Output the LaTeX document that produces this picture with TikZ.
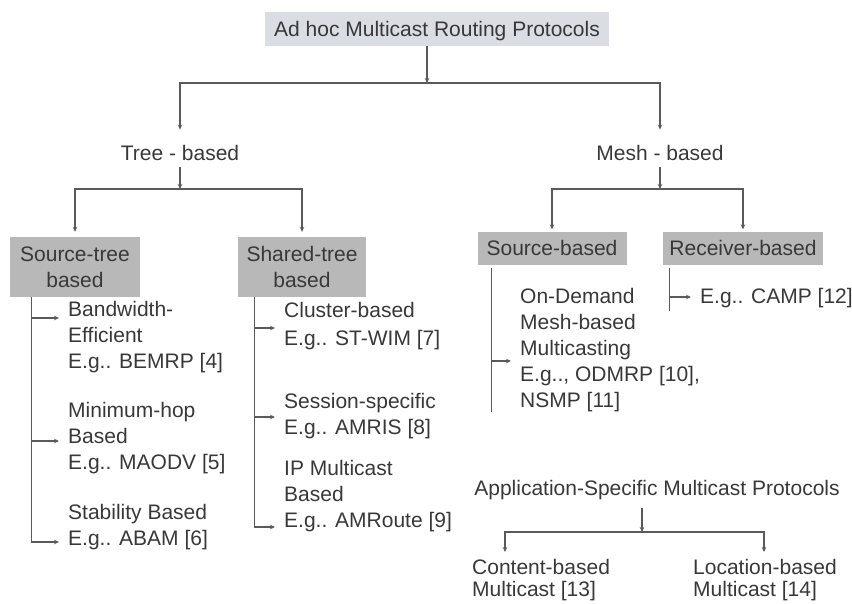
\documentclass[tikz,border=0pt]{standalone}
\usepackage{fontspec}
\setmainfont{Liberation Sans}
\usepackage{tikz}
\usetikzlibrary{arrows.meta,positioning,calc}
\definecolor{txtgray}{HTML}{383838}
\definecolor{linegray}{HTML}{5A5A5A}
\definecolor{rootfill}{HTML}{DADDE4}
\definecolor{boxfill}{HTML}{B8B8B8}

\begin{document}
\begin{tikzpicture}[
  x=1pt, y=-1pt,
  >={Stealth[length=5pt,width=4.5pt]},
  font=\fontsize{21}{26}\selectfont,
  every node/.style={text=txtgray},
  link/.style={draw=linegray, line width=1.1pt},
  arr/.style={link, ->},
  box/.style={fill=boxfill, align=center, inner sep=0pt},
  headbox/.style={box, text height=15pt, text depth=0pt},
  plain/.style={inner sep=0pt, anchor=base},
  entry/.style={align=left, anchor=north west, inner ysep=0pt, inner xsep=9pt}
]
  \useasboundingbox (0,0) rectangle (852,603);

  \node[headbox, fill=rootfill, minimum width=344pt, minimum height=34pt] (root) at (437,29)
    {Ad hoc Multicast Routing Protocols};
  \node[plain] (tree) at (180,160) {Tree - based};
  \node[plain] (mesh) at (660,160) {Mesh - based};

  \node[box, minimum width=130pt, minimum height=60pt] (srctree) at (75,267) {Source-tree\\based};
  \node[box, minimum width=128pt, minimum height=60pt] (shtree) at (302,267) {Shared-tree\\based};
  \node[headbox, minimum width=149pt, minimum height=33pt] (srcmesh) at (552,248) {Source-based};
  \node[headbox, minimum width=160pt, minimum height=33pt] (rcvmesh) at (743,248) {Receiver-based};

  \node[entry] (bwe) at (59,301) {Bandwidth-\\Efficient\\E.g.. BEMRP [4]};
  \node[entry] (minhop) at (59,402) {Minimum-hop\\Based\\E.g.. MAODV [5]};
  \node[entry] (stab) at (59,504) {Stability Based\\E.g.. ABAM [6]};
  \node[entry] (cluster) at (275,302) {Cluster-based\\[2pt]E.g.. ST-WIM [7]};
  \node[entry] (session) at (275,393) {Session-specific\\E.g.. AMRIS [8]};
  \node[entry] (ipmc) at (275,460) {IP Multicast\\Based\\E.g.. AMRoute [9]};
  \node[entry] (odmrp) at (511,288) {On-Demand\\Mesh-based\\Multicasting\\E.g.., ODMRP [10],\\NSMP [11]};
  \node[entry] (camp) at (691,288) {E.g.. CAMP [12]};

  \node[plain] (appspec) at (657,495) {Application-Specific Multicast Protocols};
  \node[entry, inner xsep=0pt, font=\fontsize{21}{22}\selectfont] (content) at (472,559)
    {Content-based\\Multicast [13]};
  \node[entry, inner xsep=0pt, font=\fontsize{21}{22}\selectfont] (location) at (693,559)
    {Location-based\\Multicast [14]};

  \coordinate (jroot) at (427,83);
  \draw[arr] (jroot |- root.south) -- (jroot);
  \draw[arr] (jroot) -| ([yshift=15pt]tree.north);
  \draw[arr] (jroot) -| ([yshift=15pt]mesh.north);

  \coordinate (jtree) at (180,189);
  \draw[arr] ([yshift=-7pt]tree.south) -- (jtree);
  \draw[arr] (jtree) -| ([yshift=5pt]srctree.north);
  \draw[arr] (jtree) -| ([yshift=5pt]shtree.north);

  \coordinate (jmesh) at (660,189);
  \draw[arr] ([yshift=-7pt]mesh.south) -- (jmesh);
  \draw[arr] (jmesh) -| ([yshift=2pt]srcmesh.north);
  \draw[arr] (jmesh) -| ([yshift=2pt]rcvmesh.north);

  \coordinate (ltrunk) at ([xshift=22pt]srctree.south west);
  \draw[arr] (ltrunk) |- ([yshift=-17pt]bwe.north west);
  \draw[arr] (ltrunk) |- ([yshift=-39pt]minhop.north west);
  \draw[arr] (ltrunk) |- ([yshift=-38pt]stab.north west);

  \coordinate (shtrunk) at ([xshift=17pt]shtree.south west);
  \draw[arr] (shtrunk) |- ([yshift=-26pt]cluster.north west);
  \draw[arr] (shtrunk) |- ([yshift=-24pt]session.north west);
  \draw[arr] (shtrunk) |- ([yshift=-67pt]ipmc.north west);

  \coordinate (strunk) at ([xshift=14pt,yshift=-3pt]srcmesh.south west);
  \draw[link] (strunk) -- (strunk |- odmrp.south);
  \draw[arr] (strunk) |- ([yshift=-73pt]odmrp.north west);

  \coordinate (rtrunk) at ([xshift=7pt,yshift=-3pt]rcvmesh.south west);
  \draw[link] (rtrunk) -- ($(rtrunk |- camp.south)+(0,3)$);
  \draw[arr] (rtrunk) |- ([yshift=-9pt]camp.north west);

  \coordinate (japp) at (642,532);
  \draw[arr] ($(japp |- appspec.south)+(0,8)$) -- (japp);
  \draw[arr] (japp) -| ([shift={(33pt,7pt)}]content.north west);
  \draw[arr] (japp) -| ([shift={(71pt,7pt)}]location.north west);
\end{tikzpicture}
\end{document}
